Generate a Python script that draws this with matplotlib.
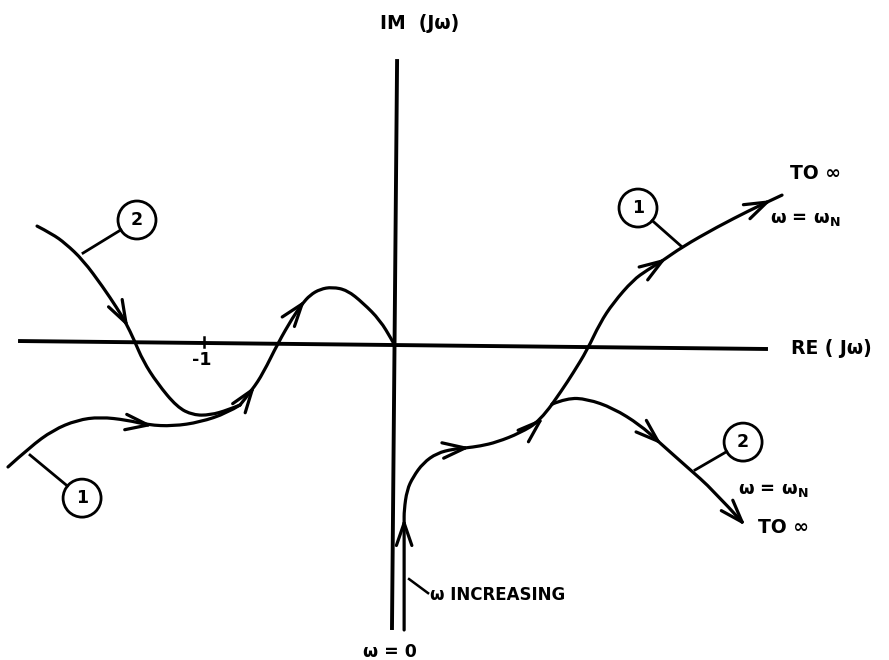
import numpy as np
import matplotlib.pyplot as plt
from matplotlib.path import Path
from matplotlib.patches import PathPatch, Circle

# Nyquist plane coordinates (RE, IM) read along each locus
# left part of curve 1, up to where curve 2 joins it
c1_left_re = [-2.032, -1.916, -1.795, -1.668, -1.547, -1.405, -1.295, -1.163, -1.021, -0.879, -0.811]
c1_left_im = [-0.647, -0.542, -0.453, -0.400, -0.384, -0.400, -0.426, -0.432, -0.411, -0.363, -0.321]

# left part of curve 2
c2_left_re = [-1.879, -1.800, -1.730, -1.637, -1.532, -1.458, -1.411, -1.368, -1.321, -1.247, -1.142,
              -1.058, -0.968, -0.874, -0.811]
c2_left_im = [0.621, 0.580, 0.530, 0.442, 0.300, 0.189, 0.111, 0.021, -0.089, -0.205, -0.332,
              -0.374, -0.374, -0.347, -0.321]

# common hump into the origin
common_left_re = [-0.811, -0.747, -0.689, -0.611, -0.532, -0.484, -0.442, -0.389, -0.326, -0.247,
                  -0.163, -0.074, -0.011, 0.0]
common_left_im = [-0.321, -0.242, -0.153, 0.005, 0.142, 0.211, 0.258, 0.289, 0.300, 0.284,
                  0.216, 0.126, 0.021, 0.0]

# common branch leaving omega = 0
common_right_re = [0.053, 0.053, 0.053, 0.068, 0.100, 0.153, 0.226, 0.311, 0.374, 0.453, 0.542,
                   0.663, 0.768, 0.832]
common_right_im = [-1.505, -0.942, -0.874, -0.768, -0.700, -0.626, -0.574, -0.553, -0.547, -0.537,
                   -0.516, -0.468, -0.405, -0.316]

# curve 1 to infinity
c1_right_re = [0.832, 0.884, 0.942, 1.016, 1.084, 1.153, 1.258, 1.332, 1.411, 1.516, 1.700, 1.874,
               1.963, 2.042]
c1_right_im = [-0.316, -0.242, -0.153, -0.032, 0.111, 0.216, 0.337, 0.389, 0.437, 0.511, 0.616,
               0.705, 0.747, 0.784]

# curve 2 to infinity
c2_right_re = [0.832, 0.911, 1.016, 1.153, 1.295, 1.389, 1.542, 1.679, 1.832]
c2_right_im = [-0.316, -0.284, -0.289, -0.337, -0.426, -0.511, -0.647, -0.768, -0.937]

# vertex indices carrying a direction arrow
c1_left_arrows = [6]
c2_left_arrows = [6]
common_left_arrows = [1, 5]
common_right_arrows = [1, 8, 12]
c1_right_arrows = [8, 12]
c2_right_arrows = [5, 8]

# numbered callouts: label, centre, point on the curve
callout_labels = ['2', '1', '1', '2']
callout_centres = [(-1.353, 0.653), (-1.642, -0.811), (1.284, 0.716), (1.837, -0.516)]
callout_targets = [(-1.637, 0.479), (-1.916, -0.584), (1.516, 0.511), (1.584, -0.663)]

LW = 2.3
INK = 'black'


def smooth_curve(ax, xs, ys):
    # quadratic B-spline through the vertex midpoints
    pts = np.column_stack([xs, ys])
    verts = [pts[0]]
    codes = [Path.MOVETO]
    n = len(pts)
    for i in range(1, n - 1):
        end = pts[i + 1] if i == n - 2 else (pts[i] + pts[i + 1]) / 2
        verts += [pts[i], end]
        codes += [Path.CURVE3, Path.CURVE3]
    if n == 2:
        verts.append(pts[1])
        codes.append(Path.LINETO)
    ax.add_patch(PathPatch(Path(verts, codes), fill=False, lw=LW, ec=INK,
                           capstyle='round', joinstyle='round'))


def chevron(ax, xs, ys, i, length=0.125, half_angle=19):
    a = np.array([xs[max(i - 1, 0)], ys[max(i - 1, 0)]])
    b = np.array([xs[min(i + 1, len(xs) - 1)], ys[min(i + 1, len(ys) - 1)]])
    d = (b - a) / np.hypot(*(b - a))
    tip = np.array([xs[i], ys[i]])
    for s in (1, -1):
        t = np.radians(s * half_angle)
        r = np.array([d[0] * np.cos(t) - d[1] * np.sin(t), d[0] * np.sin(t) + d[1] * np.cos(t)])
        end = tip - length * r
        ax.plot([tip[0], end[0]], [tip[1], end[1]], color=INK, lw=LW, solid_capstyle='round')


fig = plt.figure(figsize=(8.89, 6.6), dpi=100)
ax = fig.add_axes([0, 0, 1, 1])
ax.set_xlim(-2.074, 2.605)
ax.set_ylim(-1.663, 1.811)
ax.axis('off')

# axes of the plane
ax.plot([-1.979, 1.968], [0.016, -0.026], color=INK, lw=2.8, solid_capstyle='butt')
ax.plot([0.016, -0.011], [1.5, -1.505], color=INK, lw=2.8, solid_capstyle='butt')
ax.plot([-1.0, -1.0], [-0.016, 0.037], color=INK, lw=1.8)

curves = [
    (c1_left_re, c1_left_im, c1_left_arrows),
    (c2_left_re, c2_left_im, c2_left_arrows),
    (common_left_re, common_left_im, common_left_arrows),
    (common_right_re, common_right_im, common_right_arrows),
    (c1_right_re, c1_right_im, c1_right_arrows),
    (c2_right_re, c2_right_im, c2_right_arrows),
]
for xs, ys, arrows in curves:
    smooth_curve(ax, xs, ys)
    for i in arrows:
        chevron(ax, xs, ys, i)

R = 0.1
for lab, (cx, cy), (tx, ty) in zip(callout_labels, callout_centres, callout_targets):
    ax.add_patch(Circle((cx, cy), R, fill=False, ec=INK, lw=2.0))
    ax.text(cx, cy, lab, ha='center', va='center', fontsize=12.5, fontweight='bold')
    d = np.array([tx - cx, ty - cy])
    d /= np.hypot(*d)
    ax.plot([cx + R * d[0], tx], [cy + R * d[1], ty], color=INK, lw=2.0)

txt = dict(fontweight='bold', color=INK)
wn = '\u03c9 = \u03c9$_\\mathbf{N}$'
ax.text(0.137, 1.689, 'IM  (J\u03c9)', ha='center', va='center', fontsize=13.5, **txt)
ax.text(2.09, -0.021, 'RE ( J\u03c9)', ha='left', va='center', fontsize=13.5, **txt)
ax.text(-1.011, -0.084, '-1', ha='center', va='center', fontsize=12.5, **txt)
ax.text(2.084, 0.9, 'TO \u221e', ha='left', va='center', fontsize=13.5, **txt)
ax.text(1.979, 0.66, wn, ha='left', va='center', fontsize=13, **txt)
ax.text(1.811, -0.768, wn, ha='left', va='center', fontsize=13, **txt)
ax.text(1.916, -0.963, 'TO \u221e', ha='left', va='center', fontsize=13.5, **txt)
ax.plot([0.079, 0.179], [-1.237, -1.311], color=INK, lw=1.8)
ax.text(0.189, -1.321, '\u03c9 INCREASING', ha='left', va='center', fontsize=12, **txt)
ax.text(-0.021, -1.621, '\u03c9 = 0', ha='center', va='center', fontsize=12.5, **txt)

fig.savefig('out.png', dpi=100)
